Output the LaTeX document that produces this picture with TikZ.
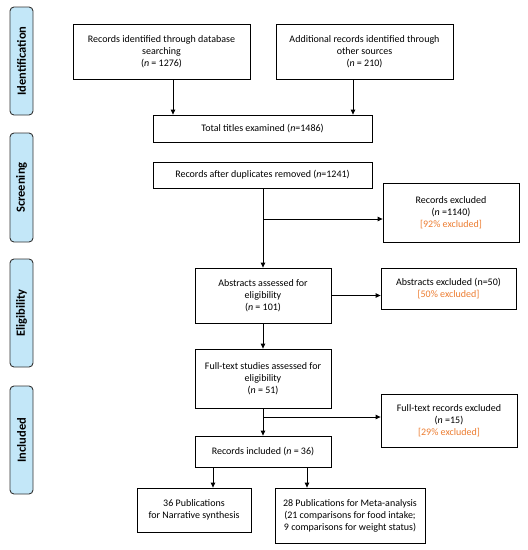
\documentclass[tikz,border=0pt]{standalone}
\usepackage{fontspec}
\setmainfont{Carlito}
\usetikzlibrary{arrows.meta,calc}
\definecolor{sideblue}{HTML}{C3E7F8}
\definecolor{exorange}{HTML}{ED7D31}
\begin{document}
\begin{tikzpicture}[x=1pt,y=-1pt,
  box/.style={draw=black,line width=0.8pt,fill=white,inner sep=2pt,align=center,font=\fontsize{10}{12}\selectfont},
  side/.style={draw=black!80,line width=0.9pt,fill=sideblue,rounded corners=4pt,inner sep=0pt,font=\bfseries\fontsize{12.5}{14}\selectfont,rotate=90},
  arr/.style={-{Triangle[length=5pt,width=4.5pt]},line width=0.8pt},
  ln/.style={line width=0.8pt}]
\useasboundingbox (0,0) rectangle (528,550);
% side labels
\node[side,minimum width=108pt,minimum height=23pt] (sid) at (21.5,61) {Identification};
\node[side,minimum width=109pt,minimum height=23pt] (sscr) at (21.5,187.5) {Screening};
\node[side,minimum width=108pt,minimum height=23pt] (sel) at (21.5,313) {Eligibility};
\node[side,minimum width=108pt,minimum height=23pt] (sinc) at (21.5,440) {Included};
% boxes
\node[box,minimum width=177pt,minimum height=55pt] (db) at (161.5,51.5) {Records identified through database\\searching\\(\textit{n} = 1276)};
\node[box,minimum width=177pt,minimum height=55pt] (oth) at (364.5,51.5) {Additional records identified through\\other sources\\(\textit{n} = 210)};
\node[box,minimum width=219pt,minimum height=27pt] (tot) at (262.5,128.5) {Total titles examined (\textit{n}=1486)};
\node[box,minimum width=219pt,minimum height=26pt] (dup) at (262.5,175) {Records after duplicates removed (\textit{n}=1241)};
\node[box,minimum width=136pt,minimum height=59pt] (ex1) at (451,212.5) {Records excluded\\(\textit{n} =1140)\\\textcolor{exorange}{[92\% excluded]}};
\node[box,minimum width=136pt,minimum height=55pt] (abs) at (263,295.5) {Abstracts assessed for\\eligibility\\(\textit{n} = 101)};
\node[box,minimum width=135pt,minimum height=41pt] (ex2) at (448.5,288.5) {Abstracts excluded (n=50)\\\textcolor{exorange}{[50\% excluded]}};
\node[box,minimum width=136pt,minimum height=59pt] (full) at (263,378.5) {Full-text studies assessed for\\eligibility\\(\textit{n} = 51)};
\node[box,minimum width=136pt,minimum height=53pt] (ex3) at (449,420.5) {Full-text records excluded\\(\textit{n} =15)\\\textcolor{exorange}{[29\% excluded]}};
\node[box,minimum width=136pt,minimum height=31pt] (inc) at (263,451.5) {Records included (\textit{n} = 36)};
\node[box,minimum width=114pt,minimum height=44pt] (nar) at (194,510) {36 Publications\\for Narrative synthesis};
\node[box,minimum width=150pt,minimum height=55pt] (meta) at (350,515.5) {28 Publications for Meta-analysis\\(21 comparisons for food intake;\\9 comparisons for weight status)};
% connectors
\coordinate (c1) at (173,0);
\coordinate (c2) at (353,0);
\draw[arr] (db.south -| c1) -- (tot.north -| c1);
\draw[arr] (oth.south -| c2) -- (tot.north -| c2);
\draw[arr] (dup.south -| abs.north) -- (abs.north);
\coordinate (b1) at (263,219);
\draw[arr] (b1) -- (b1 -| ex1.west);
\draw[arr] (abs.east) -- (abs.east -| ex2.west);
\draw[arr] (abs.south) -- (full.north);
\draw[arr] (full.south) -- (inc.north);
\coordinate (b2) at (263,417);
\draw[arr] (b2) -- (b2 -| ex3.west);
\coordinate (c3) at (213,0);
\coordinate (c4) at (307,0);
\draw[arr] (inc.south -| c3) -- (nar.north -| c3);
\draw[arr] (inc.south -| c4) -- (meta.north -| c4);
\end{tikzpicture}
\end{document}
